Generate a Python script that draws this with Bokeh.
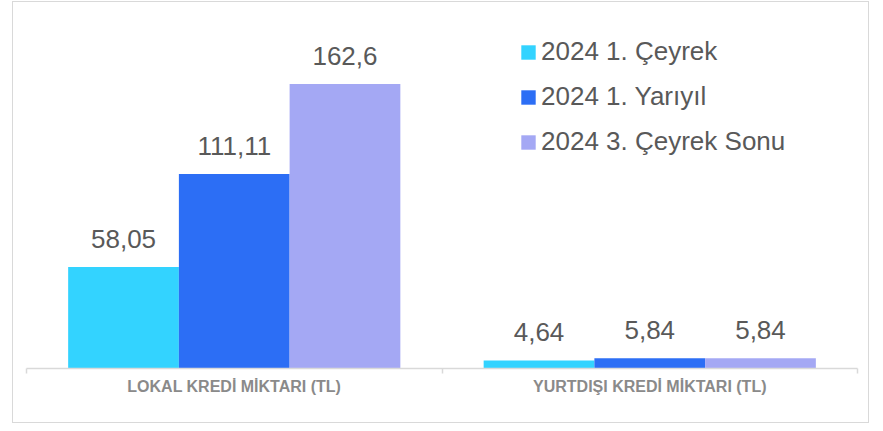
from bokeh.plotting import figure
from bokeh.models import (ColumnDataSource, Range1d, LinearAxis,
                          FixedTicker, Legend, LegendItem)
from bokeh.core.properties import value
from bokeh.embed import file_html
from bokeh.resources import INLINE

categories = ["LOKAL KREDİ MİKTARI (TL)", "YURTDIŞI KREDİ MİKTARI (TL)"]
series_names = ["2024 1. Çeyrek", "2024 1. Yarıyıl", "2024 3. Çeyrek Sonu"]
q1_2024 = [58.05, 4.64]
h1_2024 = [111.11, 5.84]
q3_2024_end = [162.6, 5.84]
colors = ["#33D3FF", "#2C6EF5", "#A4A8F4"]

series_values = [q1_2024, h1_2024, q3_2024_end]
n = len(categories)

p = figure(x_range=Range1d(0, n), y_range=Range1d(0, 200),
           width=857, height=422,
           output_backend="svg", toolbar_location=None,
           x_axis_location=None, y_axis_location=None,
           min_border_left=13, min_border_right=13,
           min_border_top=16, min_border_bottom=56)
p.margin = (1, 0, 0, 12)
p.styles = {"border": "1px solid #d9d9d9"}
p.outline_line_color = None
p.xgrid.visible = False
p.ygrid.visible = False
p.background_fill_color = "white"
p.border_fill_color = "white"

bw = 0.2665
offsets = [-bw, 0.0, bw]
items = []
for name, vals, col, off in zip(series_names, series_values, colors, offsets):
    src = ColumnDataSource(dict(x=[i + 0.5 + off for i in range(n)], v=vals,
                                lbl=[str(x).replace(".", ",") for x in vals]))
    r = p.vbar(x="x", top="v", width=bw, source=src,
               fill_color=col, line_color=None)
    p.text(x="x", y="v", text="lbl", source=src,
           text_align="center", text_baseline="alphabetic", y_offset=-28,
           text_font=value("Liberation Sans"), text_font_size="26px",
           text_color="#595959")
    items.append(LegendItem(label=name, renderers=[r]))

# category axis: boundary ticks as minor ticks, labels at category centres
ax = LinearAxis(ticker=FixedTicker(ticks=[i + 0.5 for i in range(n)],
                                   minor_ticks=list(range(n + 1))))
ax.major_label_overrides = {i + 0.5: c for i, c in enumerate(categories)}
ax.major_tick_line_color = None
ax.major_tick_in = 0
ax.major_tick_out = 0
ax.minor_tick_in = 0
ax.minor_tick_out = 5
ax.minor_tick_line_color = "#d9d9d9"
ax.minor_tick_line_width = 1.5
ax.axis_line_color = "#d9d9d9"
ax.axis_line_width = 1.5
ax.major_label_standoff = 4
ax.major_label_text_font = "Liberation Sans"
ax.major_label_text_font_style = "bold"
ax.major_label_text_font_size = "16px"
ax.major_label_text_color = "#8a8a8a"
p.add_layout(ax, "below")

legend = Legend(items=items, location=(493, 211), orientation="vertical",
                glyph_width=18, glyph_height=18, label_height=30,
                label_standoff=4, spacing=14, padding=0, margin=0,
                border_line_color=None, background_fill_alpha=0,
                label_text_font="Liberation Sans", label_text_font_size="26px",
                label_text_color="#595959")
p.add_layout(legend)

open("out.html", "w").write(file_html(p, INLINE))
